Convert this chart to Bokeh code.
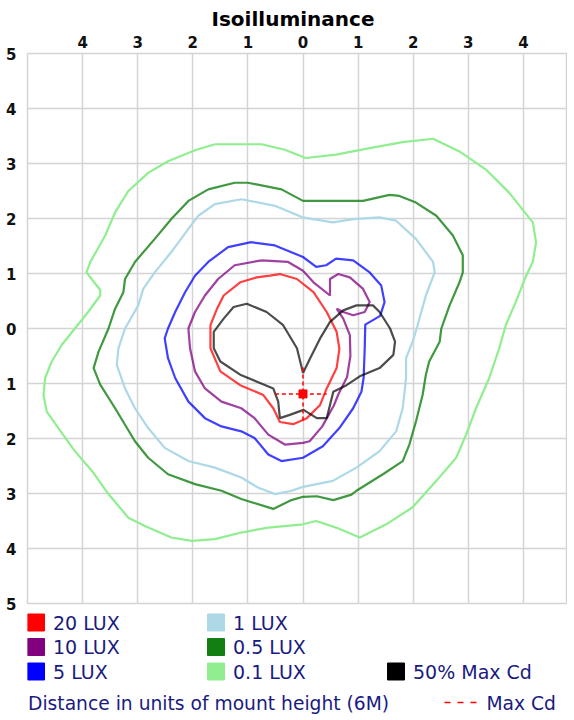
from bokeh.plotting import figure
from bokeh.models import FixedTicker, Range1d
from bokeh.layouts import column
from bokeh.embed import file_html
from bokeh.resources import INLINE
from bokeh.core.properties import value

# ---------------- data (units of mount height) ----------------
lux01_x = [-1.6, -0.75, -0.33, 0.05, 0.6, 1.21, 1.81, 2.36, 2.84, 3.32, 3.74, 4.17, 4.23, 4.17, 4.05,
           3.86, 3.68, 3.56, 3.38, 3.14, 2.96, 2.78, 2.42, 1.99, 1.51, 1.03, 0.6, 0.24, 0.0, -0.63,
           -1.12, -1.6, -2.02, -2.39, -2.87, -3.17, -3.53, -3.83, -4.14, -4.44, -4.65, -4.71, -4.68,
           -4.56, -4.38, -4.14, -3.9, -3.68, -3.68, -3.93, -3.86, -3.59, -3.41, -3.17, -2.81, -2.45, -1.96]
lux01_y = [3.35, 3.35, 3.25, 3.1, 3.16, 3.28, 3.39, 3.45, 3.22, 2.89, 2.47, 1.93, 1.57, 1.21, 0.96,
           0.48, 0.06, -0.36, -0.9, -1.45, -1.93, -2.35, -2.77, -3.25, -3.56, -3.8, -3.62, -3.5, -3.56, -3.62,
           -3.71, -3.83, -3.86, -3.8, -3.59, -3.44, -3.01, -2.59, -2.23, -1.81, -1.51, -1.21, -0.9,
           -0.6, -0.3, 0.0, 0.3, 0.6, 0.7, 1.02, 1.21, 1.69, 2.11, 2.5, 2.83, 3.04, 3.24]

lux05_x = [-1.72, -1.24, -1.0, -0.39, 0.0, 1.09, 1.57, 1.75, 2.05, 2.42, 2.72, 2.9, 2.9, 2.84, 2.66,
           2.51, 2.48, 2.29, 2.23, 2.17, 2.05, 1.93, 1.81, 1.45, 0.97, 0.88, 0.55, 0.25, 0.0, -0.21, -0.54,
           -1.12, -1.48, -1.96, -2.45, -2.81, -3.05, -3.23, -3.41, -3.68, -3.8, -3.71, -3.53, -3.41,
           -3.26, -3.23, -3.05, -2.69, -2.39, -2.08]
lux05_y = [2.53, 2.65, 2.65, 2.53, 2.32, 2.32, 2.43, 2.41, 2.29, 2.05, 1.69, 1.33, 1.02, 0.84, 0.42,
           0.0, -0.24, -0.6, -0.84, -1.21, -1.69, -2.11, -2.41, -2.65, -2.95, -3.02, -3.12, -3.05, -3.06, -3.12, -3.28,
           -3.1, -2.95, -2.83, -2.65, -2.35, -2.05, -1.75, -1.45, -1.02, -0.72, -0.42, 0.0, 0.36,
           0.66, 0.9, 1.21, 1.63, 1.99, 2.32]

lux1_x = [-1.12, -0.51, 0.0, 0.18, 0.54, 0.91, 1.39, 1.69, 2.05, 2.36, 2.39, 2.23, 2.08, 1.99, 1.87,
          1.87, 1.81, 1.69, 1.39, 0.97, 0.54, 0.0, -0.21, -0.51, -0.82, -1.12, -1.6, -2.08, -2.51,
          -2.81, -3.05, -3.23, -3.38, -3.35, -3.23, -2.99, -2.9, -2.69, -2.39, -2.08, -1.9, -1.6]
lux1_y = [2.35, 2.23, 2.02, 1.99, 1.93, 1.99, 2.02, 1.96, 1.63, 1.21, 1.02, 0.6, 0.06, -0.24, -0.54,
          -0.9, -1.45, -1.87, -2.23, -2.53, -2.77, -2.88, -2.95, -3.01, -2.89, -2.71, -2.53, -2.41, -2.17,
          -1.81, -1.45, -1.09, -0.66, -0.36, 0.0, 0.42, 0.72, 1.02, 1.39, 1.81, 2.05, 2.26]

lux5_x = [-0.94, -0.51, 0.0, 0.24, 0.42, 0.6, 0.91, 1.21, 1.42, 1.48, 1.4, 1.13, 1.12, 1.1, 1.06,
          0.91, 0.66, 0.36, 0.0, -0.39, -0.63, -0.88, -1.12, -1.48, -1.78, -2.08, -2.32, -2.45,
          -2.51, -2.45, -2.32, -2.14, -1.96, -1.72, -1.36]
lux5_y = [1.57, 1.51, 1.3, 1.12, 1.15, 1.27, 1.24, 1.02, 0.78, 0.48, 0.23, 0.07, -0.36, -0.9, -1.15,
          -1.45, -1.81, -2.14, -2.35, -2.41, -2.29, -1.99, -1.87, -1.78, -1.63, -1.33, -0.9, -0.54,
          -0.18, 0.0, 0.3, 0.66, 0.96, 1.21, 1.48]

lux10_x = [-0.75, -0.27, 0.0, 0.19, 0.49, 0.49, 0.64, 0.85, 1.09, 1.21, 1.12, 0.91, 0.73, 0.61, 0.73,
           0.85, 0.86, 0.8, 0.64, 0.56, 0.35, 0.12, 0.0, -0.33, -0.63, -0.88, -1.12, -1.48, -1.78,
           -1.96, -2.05, -2.08, -1.96, -1.78, -1.54, -1.24]
lux10_y = [1.24, 1.21, 1.05, 0.84, 0.6, 0.9, 0.99, 0.93, 0.72, 0.48, 0.3, 0.24, 0.3, 0.36, 0.18,
           -0.12, -0.5, -0.88, -1.2, -1.4, -1.78, -2.05, -2.08, -2.11, -1.93, -1.63, -1.45, -1.33, -1.09,
           -0.78, -0.36, 0.0, 0.3, 0.6, 0.9, 1.15]

lux20_x = [-0.6, -0.42, -0.11, 0.19, 0.43, 0.61, 0.66, 0.61, 0.43, 0.31, 0.07, -0.18, -0.42, -0.54,
           -0.72, -1.14, -1.5, -1.68, -1.68, -1.56, -1.44, -1.14, -0.84]
lux20_y = [0.96, 0.99, 0.9, 0.66, 0.3, -0.06, -0.37, -0.72, -1.09, -1.39, -1.63, -1.74, -1.7, -1.45,
           -1.21, -1.03, -0.78, -0.36, 0.06, 0.36, 0.6, 0.84, 0.93]

cd50_x = [0.0, -0.11, -0.36, -0.66, -1.02, -1.26, -1.44, -1.62, -1.62, -1.5, -1.14, -0.78, -0.54,
          -0.45, -0.42, -0.24, 0.01, 0.25, 0.43, 0.49, 0.55, 0.79, 1.03, 1.39, 1.64, 1.67, 1.58, 1.39,
          1.27, 0.97, 0.73, 0.49, 0.31, 0.13]
cd50_y = [-0.81, -0.36, 0.06, 0.3, 0.45, 0.39, 0.18, -0.06, -0.36, -0.6, -0.84, -0.99, -1.09,
          -1.33, -1.63, -1.57, -1.48, -1.63, -1.63, -1.39, -1.15, -1.03, -0.87, -0.72, -0.48, -0.24, 0.0, 0.3,
          0.42, 0.42, 0.33, 0.12, -0.18, -0.54]

maxcd_x = [0.0]
maxcd_y = [-1.19]
maxcd_hx = [-0.51, 0.43]
maxcd_vy = [-0.71, -1.68]

x_ticks = [-4, -3, -2, -1, 0, 1, 2, 3, 4]
y_ticks = [-5, -4, -3, -2, -1, 0, 1, 2, 3, 4, 5]

legend_labels = ["20 LUX", "10 LUX", "5 LUX", "1 LUX", "0.5 LUX", "0.1 LUX", "50% Max Cd"]
legend_colors = ["#ff0000", "#800080", "#0000ff", "#add8e6", "#137f13", "#90ee90", "#000000"]

# ---------------- main plot ----------------
p = figure(width=567, height=612, x_range=Range1d(-5, 4.8), y_range=Range1d(-5, 5),
           x_axis_location="above", toolbar_location=None, output_backend="svg",
           min_border_left=27, min_border_right=0, min_border_top=53, min_border_bottom=9,
           title="Isoilluminance")
p.title.align = "left"
p.title.offset = 184
p.title.standoff = 4
p.title.text_font = "DejaVu Sans"
p.title.text_font_size = "20px"
p.title.text_font_style = "bold"
p.title.text_color = "#000000"

for ax, ticks in ((p.xaxis, x_ticks), (p.yaxis, y_ticks)):
    ax.ticker = FixedTicker(ticks=ticks)
    ax.major_label_overrides = {t: str(abs(t)) for t in ticks}
    ax.axis_line_color = None
    ax.major_tick_line_color = None
    ax.minor_tick_line_color = None
    ax.major_label_text_font = "DejaVu Sans"
    ax.major_label_text_font_size = "15px"
    ax.major_label_text_font_style = "bold"
    ax.major_label_text_color = "#111111"
p.xaxis.major_label_standoff = 0
p.yaxis.major_label_standoff = 5

p.xgrid.ticker = FixedTicker(ticks=x_ticks)
p.ygrid.ticker = FixedTicker(ticks=y_ticks[1:-1])
p.grid.grid_line_color = "#d4d4d4"
p.grid.grid_line_width = 1.5
p.outline_line_color = "#d4d4d4"
p.outline_line_width = 1.5

contours = [
    (lux01_x, lux01_y, "#90ee90", 1.0),
    (lux05_x, lux05_y, "#1f861f", 0.85),
    (lux1_x, lux1_y, "#add8e6", 1.0),
    (lux5_x, lux5_y, "#0000ff", 0.75),
    (lux10_x, lux10_y, "#800080", 0.75),
    (lux20_x, lux20_y, "#ff0000", 0.75),
    (cd50_x, cd50_y, "#000000", 0.7),
]
for xs, ys, col, a in contours:
    p.line(xs + xs[:1], ys + ys[:1], line_color=col, line_width=2.2, line_alpha=a)

p.line(maxcd_hx, [maxcd_y[0]] * len(maxcd_hx), line_color="#ff0000", line_width=1.5, line_dash="4 3")
p.line([maxcd_x[0]] * len(maxcd_vy), maxcd_vy, line_color="#ff0000", line_width=1.5, line_dash="4 3")
p.scatter(maxcd_x, maxcd_y, marker="square", size=8, fill_color="#ff0000", line_color="#ff0000")

# ---------------- legend panel (coordinates = page pixels; frame aligned with main frame) ----------------
lg = figure(width=567, height=104, x_range=Range1d(28, 568), y_range=Range1d(717, 613),
            x_axis_type=None, y_axis_type=None,
            toolbar_location=None, output_backend="svg",
            min_border_left=27, min_border_right=0, min_border_top=0, min_border_bottom=0,
            outline_line_color=None)
lg.grid.visible = False

sq_x = [36.5, 36.5, 36.5, 216.5, 216.5, 216.5, 396.5]
sq_y = [623, 647.5, 672, 623, 647.5, 672, 672]
lg.rect(x=sq_x, y=sq_y, width=17, height=17, fill_color=legend_colors, line_color=legend_colors)
lg.text(x=[x + 17 for x in sq_x], y=sq_y, text=legend_labels,
        text_font=value("DejaVu Sans"), text_font_size="19px", text_color="#1a1a80",
        text_baseline="middle", text_align="left")
lg.text(x=[28.5], y=[704], text=["Distance in units of mount height (6M)"],
        text_font=value("DejaVu Sans"), text_font_size="18.7px", text_color="#1a1a80",
        text_baseline="middle", text_align="left")
lg.line([445, 477], [703, 703], line_color="#ff0000", line_width=1.5, line_dash="6 7")
lg.text(x=[487], y=[704], text=["Max Cd"],
        text_font=value("DejaVu Sans"), text_font_size="18.7px", text_color="#1a1a80",
        text_baseline="middle", text_align="left")

layout = column(p, lg, spacing=0)
open("out.html", "w").write(file_html(layout, INLINE))
